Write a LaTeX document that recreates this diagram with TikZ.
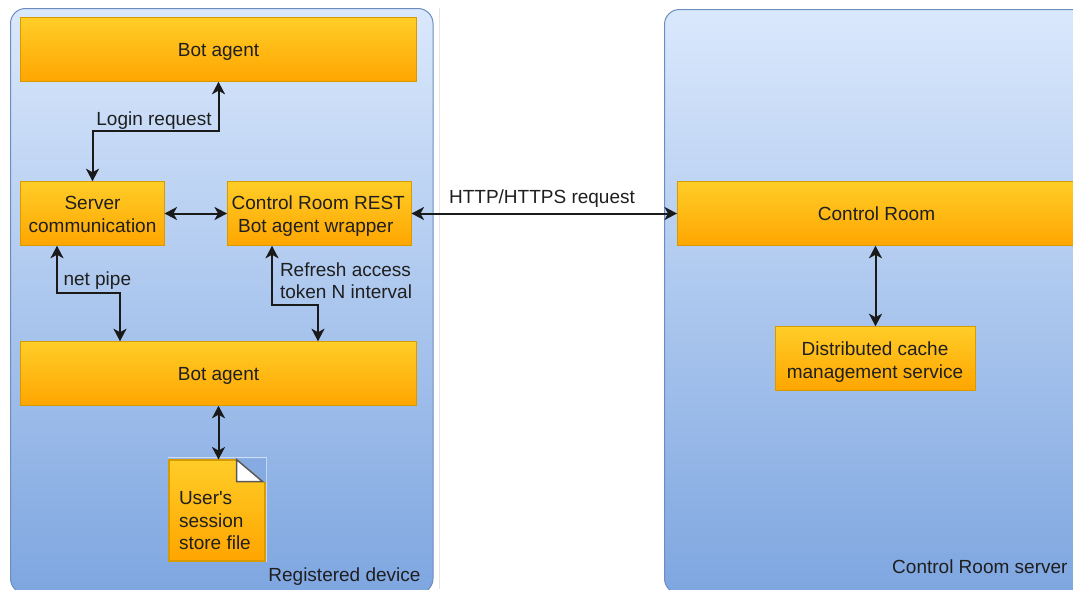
\documentclass[tikz,border=0pt]{standalone}
\usepackage{fontspec}
\setmainfont{Liberation Sans}
\usetikzlibrary{arrows.meta}
\definecolor{txt}{HTML}{1F1F1F}
\definecolor{lnk}{HTML}{1A1A1A}
\definecolor{pantop}{HTML}{DAE8FC}
\definecolor{panbot}{HTML}{7EA6E0}
\definecolor{panedge}{HTML}{6C8EBF}
\definecolor{boxtop}{HTML}{FFCD28}
\definecolor{boxbot}{HTML}{FFA500}
\definecolor{boxedge}{HTML}{D79B00}
\tikzset{
  panel/.style={rectangle,rounded corners=15pt,draw=panedge,line width=1pt,top color=pantop,bottom color=panbot,inner sep=0pt,outer sep=0pt,anchor=north west},
  box/.style={rectangle,draw=boxedge,line width=1pt,top color=boxtop,bottom color=boxbot,inner sep=0pt,outer sep=0pt},
  lbl/.style={inner sep=0pt,outer sep=0pt,text=txt,align=left,font=\fontsize{19}{22.5}\selectfont},
  boxlbl/.style={lbl,align=center},
  link/.style={draw=lnk,line width=2pt,{Stealth[length=12.5pt,width=13pt,inset=3.5pt]}-{Stealth[length=12.5pt,width=13pt,inset=3.5pt]}}
}
\begin{document}
\begin{tikzpicture}[x=1pt,y=-1pt]
\clip (0,0) rectangle (1073,589);
\fill[white] (0,0) rectangle (1073,589);
\draw[draw=black!10,line width=1pt] (439,8) -- (439,589);
\node[panel,minimum width=422.5pt,minimum height=585pt] (left) at (10.5,8.5) {};
\node[panel,minimum width=460pt,minimum height=584pt] (right) at (664.5,9.5) {};

\node[box,minimum width=396pt,minimum height=64.5pt,label={[boxlbl,yshift=-2.5pt]center:Bot agent}] (top) at (218.5,49.5) {};
\node[box,minimum width=144pt,minimum height=64.5pt,label={[boxlbl,yshift=-1pt]center:Server\\communication}] (srv) at (92.5,213.5) {};
\node[box,minimum width=184.5pt,minimum height=64.5pt,label={[boxlbl,yshift=-2.5pt,xshift=-1pt]center:Control Room REST\\\hspace*{-5pt}Bot agent wrapper}] (rest) at (319.25,213.5) {};
\node[box,minimum width=396pt,minimum height=64.5pt,label={[boxlbl,yshift=-2.5pt]center:Bot agent}] (bot) at (218.5,373.5) {};
\node[box,minimum width=420pt,minimum height=64.5pt,anchor=west,label={[boxlbl,xshift=-10.5pt,yshift=-0.5pt]center:Control Room}] (cr) at (677,213.5) {};
\node[box,minimum width=199.5pt,minimum height=64.5pt,label={[boxlbl,yshift=-3.5pt,xshift=-0.5pt]center:Distributed cache\\management service}] (cache) at (875.5,358.5) {};

\node[box,line width=2pt,minimum width=96pt,minimum height=101pt] (file) at (216.5,510) {};
\draw[white,opacity=.55,line width=1pt] ([xshift=-1pt,yshift=2pt]file.north west) -- ([xshift=2pt,yshift=2pt]file.north east) -- ([xshift=2pt,yshift=-1pt]file.south east);
\fill[panbot!92!pantop] ([xshift=-28pt,yshift=1pt]file.north east) -- ([xshift=1.5pt,yshift=1pt]file.north east) -- ([xshift=1.5pt,yshift=-22.5pt]file.north east) -- cycle;
\fill[panbot!92!pantop] ([xshift=-28pt,yshift=1pt]file.north east) -- ([xshift=-2pt,yshift=-22pt]file.north east) -- ([xshift=1.5pt,yshift=-22.5pt]file.north east) -- cycle;
\filldraw[fill=white,draw=black!65,line width=1.5pt,line join=miter] ([xshift=-28pt]file.north east) -- ([xshift=-2pt,yshift=-22pt]file.north east) -- ([xshift=-28pt,yshift=-22pt]file.north east) -- cycle;
\node[lbl,anchor=west] (filet) at (179,521) {User\textquotesingle s\\session\\store file};

\draw[link] (srv.north) -- ++(0,-50) -| (top.south);
\draw[link] (srv.east) -- (rest.west);
\draw[link] (rest.east) -- (cr.west);
\draw[link] ([xshift=36.5pt]srv.south west) -- ++(0,47) -| ([xshift=99.5pt]bot.north west);
\draw[link] ([xshift=45pt]rest.south west) -- ++(0,59) -| ([xshift=297.5pt]bot.north west);
\draw[link] (bot.south) -- (bot.south |- file.north);
\draw[link] (cr.south -| cache.north) -- (cache.north);

\node[lbl] (login) at (154,121) {Login request};
\node[lbl] (http) at (542,199) {HTTP/HTTPS request};
\node[lbl,anchor=west] (np) at (63.5,281) {net pipe};
\node[lbl,anchor=west] (ref) at (280,280.5) {Refresh access\\token N interval};
\node[lbl,anchor=east] (regd) at (420.5,577) {Registered device};
\node[lbl,anchor=east] (crs) at (1067.5,566.5) {Control Room server};
\end{tikzpicture}
\end{document}
